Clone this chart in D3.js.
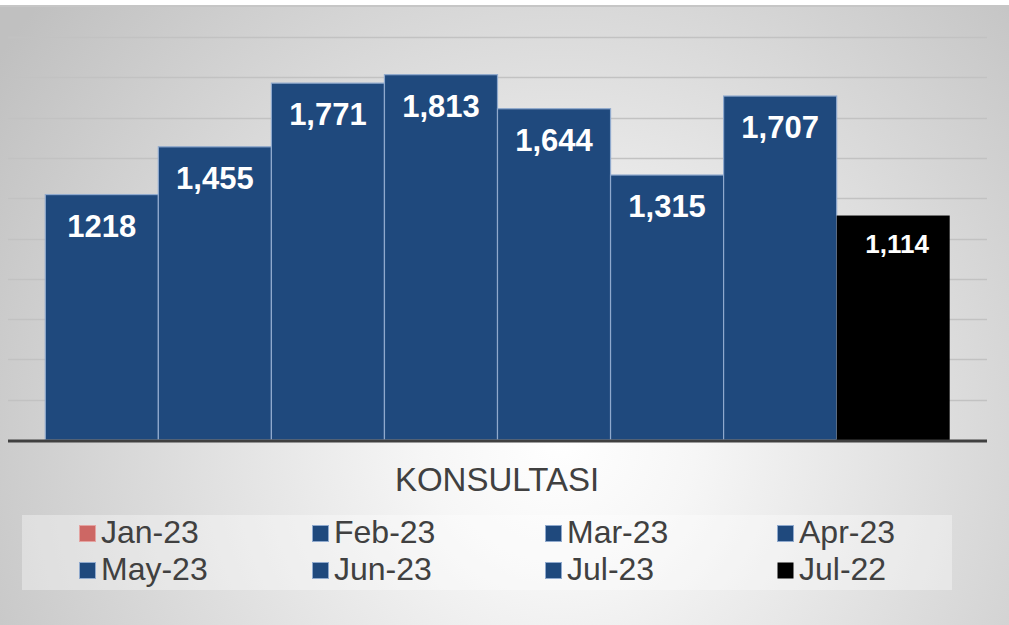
<!DOCTYPE html>
<html>
<head>
  <meta charset="utf-8">
  <script src="https://cdn.jsdelivr.net/npm/d3@7"></script>
  <style>
    body { margin: 0; background: #fff; }
    text { font-family: "Liberation Sans", Arial, sans-serif; }
  </style>
</head>
<body>
  <script>
    var width = 1009;
    var height = 625;

    // data
    var series = ["Jan-23", "Feb-23", "Mar-23", "Apr-23", "May-23", "Jun-23", "Jul-23", "Jul-22"];
    var values = [1218, 1455, 1771, 1813, 1644, 1315, 1707, 1114];
    var labels = ["1218", "1,455", "1,771", "1,813", "1,644", "1,315", "1,707", "1,114"];
    var barColors = ["#1f497d", "#1f497d", "#1f497d", "#1f497d", "#1f497d", "#1f497d", "#1f497d", "#000000"];
    var legendColors = ["#cd6764", "#1f497d", "#1f497d", "#1f497d", "#1f497d", "#1f497d", "#1f497d", "#000000"];
    var gridTicks = [200, 400, 600, 800, 1000, 1200, 1400, 1600, 1800, 2000];
    var title = "KONSULTASI";

    var svg = d3.select("body")
      .append("svg")
      .attr("width", width)
      .attr("height", height);

    var defs = svg.append("defs");
    var grad = defs.append("radialGradient")
      .attr("id", "bg")
      .attr("gradientUnits", "userSpaceOnUse")
      .attr("cx", 560).attr("cy", 440).attr("r", 680);
    grad.append("stop").attr("offset", 0).attr("stop-color", "#ffffff");
    grad.append("stop").attr("offset", 0.2).attr("stop-color", "#f6f6f6");
    grad.append("stop").attr("offset", 1).attr("stop-color", "#c0c0c0");

    // chart background + top border
    svg.append("rect")
      .attr("x", 0).attr("y", 6)
      .attr("width", width).attr("height", height - 6)
      .attr("fill", "url(#bg)");
    svg.append("line")
      .attr("x1", 0).attr("x2", width)
      .attr("y1", 6).attr("y2", 6)
      .attr("stroke", "#c6c6c6")
      .attr("stroke-width", 2);

    var plotLeft = 8, plotRight = 987, baseY = 440;

    var x = d3.scaleBand()
      .domain(series)
      .range([plotLeft, plotRight])
      .paddingInner(0)
      .paddingOuter(0.33);

    var y = d3.scaleLinear()
      .domain([0, 2000])
      .range([baseY, 37]);

    // gridlines
    svg.append("g")
      .selectAll("line")
      .data(gridTicks)
      .enter()
      .append("line")
      .attr("x1", plotLeft)
      .attr("x2", plotRight)
      .attr("y1", function(d) { return Math.round(y(d)) + 0.5; })
      .attr("y2", function(d) { return Math.round(y(d)) + 0.5; })
      .attr("stroke", "#c2c2c2")
      .attr("stroke-width", 1.5);

    // bars
    svg.append("g")
      .selectAll("rect")
      .data(values)
      .enter()
      .append("rect")
      .attr("x", function(d, i) { return x(series[i]); })
      .attr("y", function(d) { return y(d); })
      .attr("width", x.bandwidth())
      .attr("height", function(d) { return baseY - y(d); })
      .attr("fill", function(d, i) { return barColors[i]; })
      .attr("stroke", function(d, i) { return i < 7 ? "#8fa9cd" : "none"; })
      .attr("stroke-width", 1.2);

    // axis line
    svg.append("line")
      .attr("x1", plotLeft).attr("x2", plotRight)
      .attr("y1", baseY + 1).attr("y2", baseY + 1)
      .attr("stroke", "#404040")
      .attr("stroke-width", 3);

    // value labels
    svg.append("g")
      .selectAll("text")
      .data(values)
      .enter()
      .append("text")
      .attr("x", function(d, i) { return x(series[i]) + x.bandwidth() / 2 + (i == 7 ? 4 : 0); })
      .attr("y", function(d, i) { return y(d) + (i == 7 ? 37 : 42); })
      .attr("text-anchor", "middle")
      .attr("fill", "#ffffff")
      .attr("font-weight", "bold")
      .attr("font-size", function(d, i) { return i == 7 ? "26px" : "31px"; })
      .text(function(d, i) { return labels[i]; });

    // category title
    svg.append("text")
      .attr("x", 497)
      .attr("y", 491)
      .attr("text-anchor", "middle")
      .attr("font-size", "33px")
      .attr("fill", "#404040")
      .text(title);

    // legend
    svg.append("rect")
      .attr("x", 22).attr("y", 515)
      .attr("width", 930).attr("height", 75)
      .attr("fill", "#ffffff")
      .attr("fill-opacity", 0.35);

    var colX = [79, 312, 545, 777];
    var rowY = [534, 571];

    var item = svg.append("g")
      .selectAll("g")
      .data(series)
      .enter()
      .append("g")
      .attr("transform", function(d, i) {
        return "translate(" + colX[i % 4] + "," + rowY[Math.floor(i / 4)] + ")";
      });

    item.append("rect")
      .attr("x", 0.5).attr("y", -8.5)
      .attr("width", 16).attr("height", 16)
      .attr("fill", function(d, i) { return legendColors[i]; })
      .attr("stroke", function(d, i) { return i == 7 ? "none" : (i == 0 ? "#e4a3a1" : "#8fa9cd"); })
      .attr("stroke-width", 1);

    item.append("text")
      .attr("x", 22)
      .attr("y", 9)
      .attr("font-size", "32px")
      .attr("fill", "#404040")
      .text(function(d) { return d; });
  </script>
</body>
</html>
